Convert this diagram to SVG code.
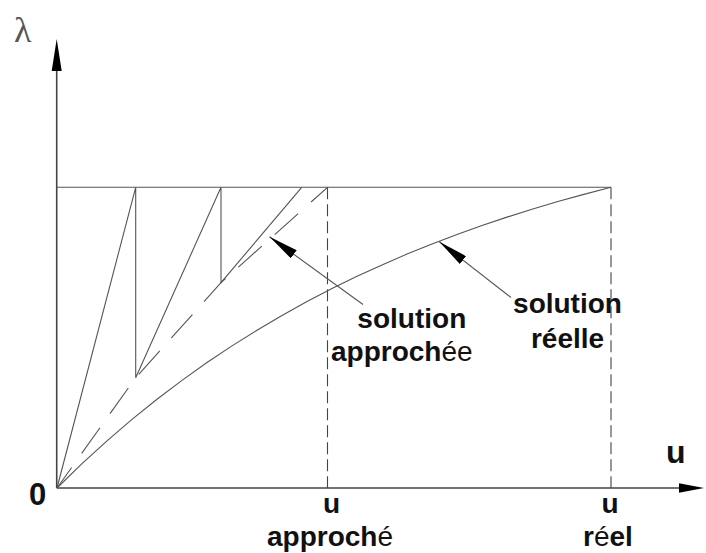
<svg xmlns="http://www.w3.org/2000/svg" width="706" height="553" viewBox="0 0 706 553">
<style>
.ln{fill:none;stroke:#555;stroke-width:1.1}
.ax{fill:none;stroke:#444;stroke-width:1.6}
.dsh{fill:none;stroke:#444;stroke-width:1.1;stroke-dasharray:12 5}
.apx{fill:none;stroke:#555;stroke-width:1.1;stroke-dasharray:31.5 17.3;stroke-dashoffset:6.3}
.lbl{font-family:"Liberation Sans",Arial,sans-serif;font-weight:bold;font-size:28px;fill:#111}
.lt{font-weight:normal}
</style>
<defs>
<marker id="ah" markerWidth="30" markerHeight="10" refX="30" refY="5" orient="auto" markerUnits="userSpaceOnUse">
<path d="M0,0 L30,5 L0,10 z" fill="#000"/>
</marker>
</defs>
<rect width="706" height="553" fill="#fff"/>
<g id="axes">
<line class="ax" x1="56.7" y1="488" x2="56.7" y2="68"/>
<polygon points="56.7,39 61.7,71 51.7,71" fill="#000"/>
<line class="ax" x1="56.7" y1="488" x2="682" y2="488"/>
<polygon points="704,488 679,483.3 679,492.7" fill="#000"/>
</g>
<g id="connectors">
<line class="ln" x1="56.7" y1="187.3" x2="611" y2="187.3"/>
<line class="dsh" x1="327.5" y1="187.3" x2="327.5" y2="488"/>
<line class="dsh" x1="611" y1="187.3" x2="611" y2="488"/>
<polyline class="ln" points="57,488 135.7,187.3 135.7,377.7 221,187.3 221,282.7 301.7,187.3"/>
<polyline class="apx" points="57,488 135.7,377.7 221,282.7 327.5,187.3"/>
<polyline class="ln" points="57,488 82,463.7 107,440.87 132,419.42 157,399.28 182,380.35 207,362.57 232,345.87 257,330.18 282,315.44 307,301.59 332,288.59 357,276.37 382,264.89 407,254.1 432,243.97 457,234.46 482,225.52 507,217.12 532,209.23 557,201.81 582,194.85 611,187.3"/>
<line class="ln" x1="363" y1="304.5" x2="269.5" y2="236.7" marker-end="url(#ah)"/>
<line class="ln" x1="511" y1="297.5" x2="439.3" y2="241.7" marker-end="url(#ah)"/>
</g>
<g id="lambda"><text x="14" y="42" font-family="'Liberation Serif','DejaVu Serif',serif" font-size="36" fill="#555">λ</text></g>
<g id="origin"><text class="lbl" x="29" y="505" font-size="31" style="font-size:31px">0</text></g>
<g id="u-axis"><text class="lbl" x="666" y="463" style="font-size:32px">u</text></g>
<g id="label-approchee"><text class="lbl" x="411.8" y="328" text-anchor="middle">solution</text><text class="lbl" x="331" y="361">approch<tspan class="lt">ée</tspan></text></g>
<g id="label-reelle"><text class="lbl" x="567.5" y="313" text-anchor="middle">solution</text><text class="lbl" x="567.5" y="348" text-anchor="middle">réelle</text></g>
<g id="u-approche"><text class="lbl" x="331.5" y="513" text-anchor="middle">u</text><text class="lbl" x="267" y="546">approch<tspan class="lt">é</tspan></text></g>
<g id="u-reel"><text class="lbl" x="610" y="513" text-anchor="middle">u</text><text class="lbl" x="583" y="546">r<tspan class="lt">é</tspan>el</text></g>
</svg>
